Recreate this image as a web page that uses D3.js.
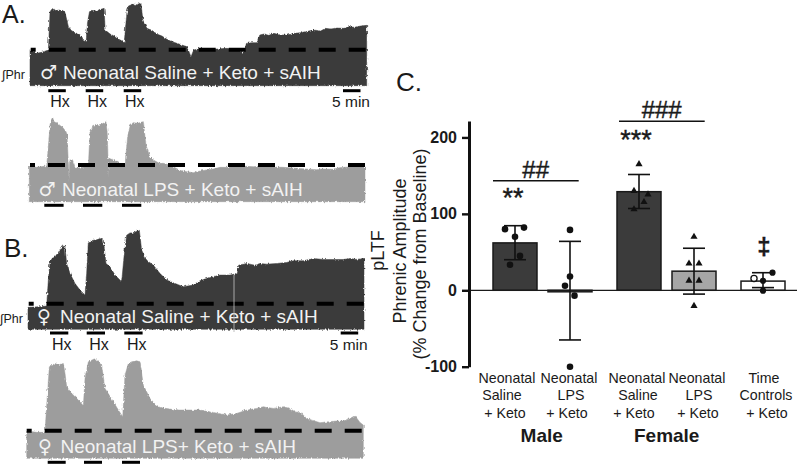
<!DOCTYPE html>
<html>
<head>
<meta charset="utf-8">
<script src="https://cdn.jsdelivr.net/npm/d3@7"></script>
<style>
  html, body { margin: 0; padding: 0; background: #fff; }
  svg { display: block; }
  text { font-family: "Liberation Sans", Arial, sans-serif; fill: #1a1a1a; }
</style>
</head>
<body>
<svg id="chart" width="797" height="465"></svg>
<script>
// phrenic traces, time in samples, amplitude in a.u. above the baseline
var maleSalineTime = [0,20,35,55,60,65,72,80,90,98,105,115,125,132,140,150,160,168,172,178,185,195,205,215,222,225,240,250,260,272,282,290,295,302,310,320,332,338,350,365,380,395,410,425,440,455,470,482,490,510,530,550,570,590,610,630,640,648,665,680,688,700,715,730,750,770,790,810,830,850,870,885,900,920,940,955,970,990,1008]
var maleSalineAmp = [-1,-11,-8,-1,114,121,117,119,115,118,111,69,57,52,49,45,27,24,79,114,118,116,120,122,124,59,47,42,34,28,21,110,131,134,137,135,141,89,64,58,47,41,31,24,19,14,9,-21,-1,4,1,1,3,4,0,-3,-10,19,21,21,44,47,43,49,44,44,49,51,55,59,56,64,62,65,64,69,67,71,73]

var maleLpsTime = [0,22,52,58,62,66,70,75,82,90,100,110,113,117,119,121,124,130,137,150,165,177,182,190,200,212,222,230,234,236,237,239,252,270,287,295,303,312,325,342,350,360,372,390,402,420,432,450,472,492,512,532,552,572,592,620,650,672,700,730,762,790,830,862,880,912,930,960,990,1007]
var maleLpsAmp = [-3,-7,-3,65,120,135,143,125,130,120,113,100,92,10,-50,10,20,15,-10,-8,-6,-5,95,115,122,120,125,130,95,25,-40,20,15,5,0,85,120,127,125,130,60,30,15,5,5,0,-5,-15,-20,-23,-18,-15,-12,-7,-7,-5,-4,-5,-3,-6,-7,-9,-12,-14,-12,-13,-8,-6,-5,-5]

var femaleSalineTime = [0,36,56,61,66,76,91,99,106,111,116,126,141,156,171,176,181,196,206,216,226,234,246,261,281,288,296,306,316,326,334,341,356,376,396,416,441,466,496,516,536,576,606,628,632,656,680,696,716,746,776,796,826,856,886,916,946,966,986,1008]
var femaleSalineAmp = [-11,-9,-7,71,126,141,151,165,176,171,121,91,61,41,26,91,186,191,192,196,191,121,111,86,66,141,206,213,213,218,221,161,131,116,91,71,61,51,56,69,76,86,86,91,116,121,116,121,119,121,124,129,129,136,133,133,133,136,133,136]

var femaleLpsTime = [0,30,55,60,68,76,85,95,110,115,120,135,155,170,175,185,195,205,215,225,235,260,275,288,295,305,315,330,340,350,370,385,400,430,460,490,520,560,600,630,660,690,710,740,770,790,805,825,840,855,880,905,930,950,970,985,1000,1010]
var femaleLpsAmp = [-1,-5,-5,77,192,197,202,198,202,172,132,112,92,75,157,207,212,217,207,197,127,87,62,42,167,202,207,210,207,137,97,80,70,65,62,62,62,55,47,52,62,67,72,67,72,67,57,52,37,32,24,27,29,29,37,45,25,17]

// bar chart values, % change from baseline
var categories = ["Male Saline", "Male LPS", "Female Saline", "Female LPS", "Time Controls"]
var means = [62, -2, 129, 25, 12]
var errUpper = [84.5, 64, 151.5, 55, 23]
var errLower = [40, -65, 107, -5, 3.5]
var maleSalinePts = [80, 82, 70, 45, 33.5]
var maleLpsPts = [79, 18, 6, -7, -100]
var femaleSalinePts = [165, 130, 125.5, 115.5, 106]
var femaleLpsPts = [70, 35, 35, 12.5, 12.5, -20.5]
var controlPts = [23, 15.5, 12.5, -0.5]
var yTicks = [-100, 0, 100, 200]

var svg = d3.select('#chart')
var dark = '#3b3b3b', grey = '#9d9d9d'

// rough edge on the recorded traces, same look as the scanned original
var rough = svg.append('defs').append('filter').attr('id', 'rough')
  .attr('x', '-2%').attr('y', '-5%').attr('width', '104%').attr('height', '110%')
rough.append('feTurbulence').attr('type', 'fractalNoise')
  .attr('baseFrequency', '0.7 0.25').attr('numOctaves', 2).attr('seed', 4).attr('result', 'n')
rough.append('feDisplacementMap').attr('in', 'SourceGraphic').attr('in2', 'n')
  .attr('scale', 3.2).attr('xChannelSelector', 'R').attr('yChannelSelector', 'G')

// ---- traces
var panels = [
  { time: maleSalineTime, amp: maleSalineAmp, x0: 30, x1: 366.7, dashY: 49.7, floorY: 85.7, floor: -108, fill: dark, dashStart: 30.7,
    label: '♂', name: 'Neonatal Saline + Keto + sAIH', labelX: 40, textX: 63, labelY: 79,
    hxY: 90.7, hx: [48.3, 85.7, 123.7], hxW: 17.5, scaleBar: 343, hxText: 107, hxCx: [60, 97.3, 134.7], phrY: 79, phrX: 2 },
  { time: maleLpsTime, amp: maleLpsAmp, x0: 29.3, x1: 365, dashY: 165, floorY: 201.7, floor: -110, fill: grey, dashStart: 30,
    label: '♂', name: 'Neonatal LPS + Keto + sAIH', labelX: 38.5, textX: 62, labelY: 196,
    hxY: 205.3, hx: [44.3, 83, 122], hxW: 19.3 },
  { time: femaleSalineTime, amp: femaleSalineAmp, x0: 28, x1: 364, dashY: 303.7, floorY: 329.3, floor: -77, fill: dark, dashStart: 28.7,
    label: '♀', name: 'Neonatal Saline + Keto + sAIH', labelX: 37, textX: 60, labelY: 322.7,
    hxY: 333, hx: [50, 86.7, 124.3], hxW: 18.3, scaleBar: 340.7, hxText: 349.5, hxCx: [61.7, 99, 136.7], phrY: 323, phrX: 0 },
  { time: femaleLpsTime, amp: femaleLpsAmp, x0: 26.7, x1: 363.3, dashY: 430.7, floorY: 458.3, floor: -83, fill: grey, dashStart: 26.7,
    label: '♀', name: 'Neonatal LPS+ Keto + sAIH', labelX: 38, textX: 60.5, labelY: 453.3,
    hxY: 462.3, hx: [47.7, 84, 122], hxW: 18 }
]

panels.forEach(function(p) {
  var x = d3.scaleLinear().domain([0, d3.max(p.time)]).range([p.x0, p.x1])
  var y = d3.scaleLinear().domain([p.floor, 0]).range([p.floorY, p.dashY])
  var area = d3.area()
    .x(function(d) { return x(d[0]) })
    .y0(y(p.floor))
    .y1(function(d) { return y(d[1]) })

  svg.append('path')
    .datum(d3.zip(p.time, p.amp))
    .attr('d', area)
    .attr('fill', p.fill)
    .attr('stroke', p.fill)
    .attr('stroke-width', 0.5)
    .attr('filter', 'url(#rough)')

  // baseline, drawn dashed
  svg.append('line')
    .attr('x1', p.dashStart).attr('x2', p.x1)
    .attr('y1', p.dashY).attr('y2', p.dashY)
    .attr('stroke', '#000').attr('stroke-width', 4)
    .attr('stroke-dasharray', '17 13').attr('stroke-dashoffset', 12)

  svg.append('text').attr('x', p.labelX).attr('y', p.labelY)
    .style('font-family', '"DejaVu Sans"').style('font-size', '19px').style('fill', '#f2f2f2')
    .text(p.label)
  svg.append('text').attr('x', p.textX).attr('y', p.labelY)
    .style('font-size', '19px').style('fill', '#f2f2f2')
    .text(p.name)

  svg.selectAll(null).data(p.hx).join('line')
    .attr('x1', function(d) { return d }).attr('x2', function(d) { return d + p.hxW })
    .attr('y1', p.hxY).attr('y2', p.hxY)
    .attr('stroke', '#000').attr('stroke-width', 3)

  if (p.hxCx) {
    svg.selectAll(null).data(p.hxCx).join('text')
      .attr('x', function(d) { return d }).attr('y', p.hxText)
      .attr('text-anchor', 'middle').style('font-size', '16px').text('Hx')
    svg.append('line')
      .attr('x1', p.scaleBar).attr('x2', p.scaleBar + 17.5)
      .attr('y1', p.hxY).attr('y2', p.hxY)
      .attr('stroke', '#000').attr('stroke-width', 3)
    svg.append('text').attr('x', p.scaleBar + 8).attr('y', p.hxText)
      .attr('text-anchor', 'middle').style('font-size', '15.5px').text('5 min')
    svg.append('text').attr('x', p.phrX).attr('y', p.phrY)
      .style('font-size', '12.5px').text('∫Phr')
  }
})

// artefact line on the female saline trace
svg.append('line')
  .attr('x1', 234).attr('x2', 234).attr('y1', 275).attr('y2', 332)
  .attr('stroke', '#b5b5b5').attr('stroke-width', 0.9)

// panel letters
svg.append('text').attr('x', 2).attr('y', 22.8).style('font-size', '25px').text('A.')
svg.append('text').attr('x', 4).attr('y', 256.5).style('font-size', '26px').text('B.')
svg.append('text').attr('x', 396).attr('y', 90.5).style('font-size', '26px').text('C.')

// ---- bar chart
var xBar = d3.scaleOrdinal().domain(categories).range([515, 570, 639, 694, 763])
var yBar = d3.scaleLinear().domain([-100, 221.5]).range([366.7, 121])
var barW = 44
var barFill = [dark, '#fff', dark, '#a6a6a6', '#fff']

var rows = categories.map(function(c, i) {
  return { cat: c, mean: means[i], hi: errUpper[i], lo: errLower[i], fill: barFill[i] }
})

svg.selectAll('rect.bar').data(rows).join('rect')
  .attr('class', 'bar')
  .attr('x', function(d) { return xBar(d.cat) - barW / 2 })
  .attr('width', barW)
  .attr('y', function(d) { return Math.min(yBar(d.mean), yBar(0)) })
  .attr('height', function(d) { return Math.abs(yBar(d.mean) - yBar(0)) })
  .attr('fill', function(d) { return d.fill })
  .attr('stroke', '#1a1a1a').attr('stroke-width', 1.5)

// baseline at zero
svg.append('line')
  .attr('x1', 469).attr('x2', 797)
  .attr('y1', yBar(0)).attr('y2', yBar(0))
  .attr('stroke', '#1a1a1a').attr('stroke-width', 1.3)

var err = svg.selectAll('g.err').data(rows).join('g').attr('class', 'err')
  .attr('stroke', '#111').attr('stroke-width', 1.6)
err.append('line')
  .attr('x1', function(d) { return xBar(d.cat) }).attr('x2', function(d) { return xBar(d.cat) })
  .attr('y1', function(d) { return yBar(d.hi) }).attr('y2', function(d) { return yBar(d.lo) })
err.selectAll('line.cap')
  .data(function(d) { return [d.hi, d.lo].map(function(v) { return { cat: d.cat, v: v } }) })
  .join('line').attr('class', 'cap')
  .attr('x1', function(d) { return xBar(d.cat) - 11 }).attr('x2', function(d) { return xBar(d.cat) + 11 })
  .attr('y1', function(d) { return yBar(d.v) }).attr('y2', function(d) { return yBar(d.v) })

// individual animals
var pointSets = [
  { cat: categories[0], vals: maleSalinePts, shape: d3.symbolCircle, size: 34, jitter: [-10, 9, 0, 5, -5] },
  { cat: categories[1], vals: maleLpsPts, shape: d3.symbolCircle, size: 34, jitter: [0, 0, -5, 4.5, 0] },
  { cat: categories[2], vals: femaleSalinePts, shape: d3.symbolTriangle, size: 22, jitter: [0, -5, 9, 5, -5] },
  { cat: categories[3], vals: femaleLpsPts, shape: d3.symbolTriangle, size: 22, jitter: [0, -5, 5, -5, 5, 0] },
  { cat: categories[4], vals: controlPts, shape: d3.symbolCircle, size: 30, jitter: [9.5, -9, 0, 0], open: 1 }
]
pointSets.forEach(function(s) {
  svg.selectAll(null).data(s.vals).join('path')
    .attr('d', d3.symbol().type(s.shape).size(s.size))
    .attr('transform', function(d, i) {
      return 'translate(' + (xBar(s.cat) + s.jitter[i]) + ',' + yBar(d) + ')'
    })
    .attr('fill', function(d, i) { return s.open === i ? '#fff' : '#111' })
    .attr('stroke', '#111').attr('stroke-width', function(d, i) { return s.open === i ? 1.3 : 0 })
})

// y axis
var yAxis = svg.append('g').attr('transform', 'translate(469,0)')
  .call(d3.axisLeft(yBar).tickValues(yTicks).tickFormat(function(d) { return String(d) }).tickSize(7).tickSizeOuter(0).tickPadding(5))
yAxis.select('.domain').attr('stroke', '#111').attr('stroke-width', 3)
yAxis.selectAll('.tick line').attr('stroke', '#111').attr('stroke-width', 2.4)
yAxis.selectAll('.tick text').style('font-size', '16px').style('font-weight', 'bold').style('font-family', '"Liberation Sans"').style('fill', '#1a1a1a')

// y title
var titleLines = [['pLTF', 383.5, 250.5], ['Phrenic Amplitude', 406, 251], ['(% Change from Baseline)', 426, 254]]
svg.selectAll(null).data(titleLines).join('text')
  .attr('transform', function(d) { return 'translate(' + d[1] + ',' + d[2] + ') rotate(-90)' })
  .attr('text-anchor', 'middle').style('font-size', '18px')
  .text(function(d) { return d[0] })

// category labels
var labelLines = [
  ['Neonatal', 'Saline', '+ Keto'],
  ['Neonatal', 'LPS', '+ Keto'],
  ['Neonatal', 'Saline', '+ Keto'],
  ['Neonatal', 'LPS', '+ Keto'],
  ['Time', 'Controls', '+ Keto']
]
// the lines are not quite centred under each other in the original
var labelShift = [[-8, -13, -10], [-1, 1, -3], [-2, -1, -5], [3, 5, 4], [1, 3, 4]]
labelLines.forEach(function(lines, i) {
  svg.selectAll(null).data(lines).join('text')
    .attr('x', function(d, j) { return xBar(categories[i]) + labelShift[i][j] })
    .attr('y', function(d, j) { return 383 + j * 17.3 })
    .attr('text-anchor', 'middle').style('font-size', '14.2px')
    .text(function(d) { return d })
})
svg.append('text').attr('x', 541.7).attr('y', 441.5).attr('text-anchor', 'middle')
  .style('font-size', '19px').style('font-weight', 'bold').text('Male')
svg.append('text').attr('x', 666.7).attr('y', 441.5).attr('text-anchor', 'middle')
  .style('font-size', '19px').style('font-weight', 'bold').text('Female')

// significance marks
var brackets = [[493, 578.7, 180.7], [619, 704.7, 121.3]]
svg.selectAll(null).data(brackets).join('line')
  .attr('x1', function(d) { return d[0] }).attr('x2', function(d) { return d[1] })
  .attr('y1', function(d) { return d[2] }).attr('y2', function(d) { return d[2] })
  .attr('stroke', '#111').attr('stroke-width', 1.6)
var marks = [['##', 535.7, 177.5, 24, 'normal'], ['###', 661.7, 118, 24, 'normal'], ['**', 513, 207, 27, 'normal'], ['***', 636, 149, 27, 'normal'], ['‡', 764, 255, 24, 'bold']]
svg.selectAll(null).data(marks).join('text')
  .attr('x', function(d) { return d[1] }).attr('y', function(d) { return d[2] })
  .attr('text-anchor', 'middle')
  .style('font-size', function(d) { return d[3] + 'px' })
  .style('font-weight', function(d) { return d[4] })
  .style('stroke', '#1a1a1a').style('stroke-width', 0.4)
  .text(function(d) { return d[0] })
</script>
</body>
</html>
